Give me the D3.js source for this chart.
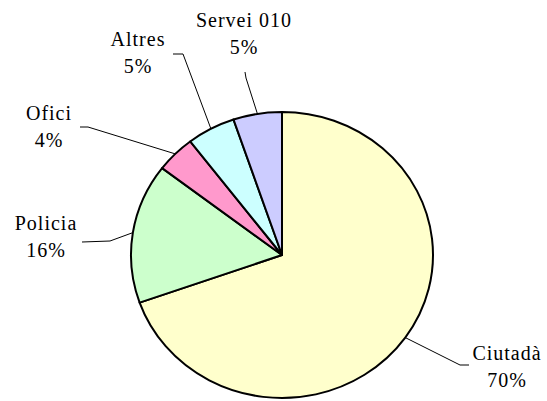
<!DOCTYPE html>
<html>
<head>
<meta charset="utf-8">
<script src="https://cdn.jsdelivr.net/npm/d3@7"></script>
<style>
  body { margin: 0; background: #fff; }
  .lbl { font-family: "Liberation Serif", "Times New Roman", serif; font-size: 20px; letter-spacing: 1px; }
</style>
</head>
<body>
<div id="chart"></div>
<script>
// slice data, clockwise from 12 o'clock
const categories = ["Ciutadà", "Policia", "Ofici", "Altres", "Servei 010"];
const values = [69.6, 15.8, 4.2, 5.2, 5.2];
const colours = ["#FFFFCC", "#CCFFCC", "#FF99CC", "#CCFFFF", "#CCCCFF"];

// label layout: text centre, first baseline, leader knee (start -> end)
const labelPos = [
    { x: 507, y: 360, knee: [[469, 365], [460, 365]] },
    { x: 46, y: 230, knee: [[82, 242], [110, 241]] },
    { x: 49, y: 120, knee: [[80, 127], [88, 127]] },
    { x: 138, y: 46, knee: [[173, 54], [183, 54]] },
    { x: 244, y: 27, knee: [[245, 72], [246, 78]] }
];

const width = 547;
const height = 401;
const cx = 282, cy = 255;
const rx = 151, ry = 143;

const svg = d3.select("#chart").append("svg")
    .attr("width", width)
    .attr("height", height)
    .attr("viewBox", [0, 0, width, height]);

const total = d3.sum(values);
const data = categories.map((c, i) => ({ name: c, value: values[i], colour: colours[i], pos: labelPos[i] }));

const pie = d3.pie().sort(null).value(d => d.value).startAngle(0).endAngle(2 * Math.PI);
const arcs = pie(data);

const arc = d3.arc().innerRadius(0).outerRadius(ry);

//pie is slightly wider than tall, so scale x
svg.append("g")
    .attr("transform", `translate(${cx},${cy}) scale(${rx / ry},1)`)
    .selectAll("path")
    .data(arcs)
    .join("path")
    .attr("d", arc)
    .attr("fill", d => d.data.colour)
    .attr("stroke", "#000")
    .attr("stroke-width", 2)
    .attr("stroke-linejoin", "round")
    .attr("vector-effect", "non-scaling-stroke");

//point on the pie edge at the middle of a slice
function edgePoint(d) {
    const a = (d.startAngle + d.endAngle) / 2;
    return [cx + rx * Math.sin(a), cy - ry * Math.cos(a)];
}

//leader lines
svg.append("g")
    .attr("fill", "none")
    .attr("stroke", "#000")
    .attr("stroke-width", 1)
    .selectAll("path")
    .data(arcs)
    .join("path")
    .attr("d", d => d3.line()([d.data.pos.knee[0], d.data.pos.knee[1], edgePoint(d)]));

//labels
const label = svg.append("g")
    .attr("text-anchor", "middle")
    .attr("fill", "#000")
    .selectAll("text")
    .data(arcs)
    .join("text")
    .attr("class", "lbl")
    .attr("x", d => d.data.pos.x)
    .attr("y", d => d.data.pos.y);

label.append("tspan")
    .attr("x", d => d.data.pos.x)
    .text(d => d.data.name);

label.append("tspan")
    .attr("x", d => d.data.pos.x)
    .attr("dy", 27)
    .text(d => Math.round(d.data.value / total * 100) + "%");
</script>
</body>
</html>
